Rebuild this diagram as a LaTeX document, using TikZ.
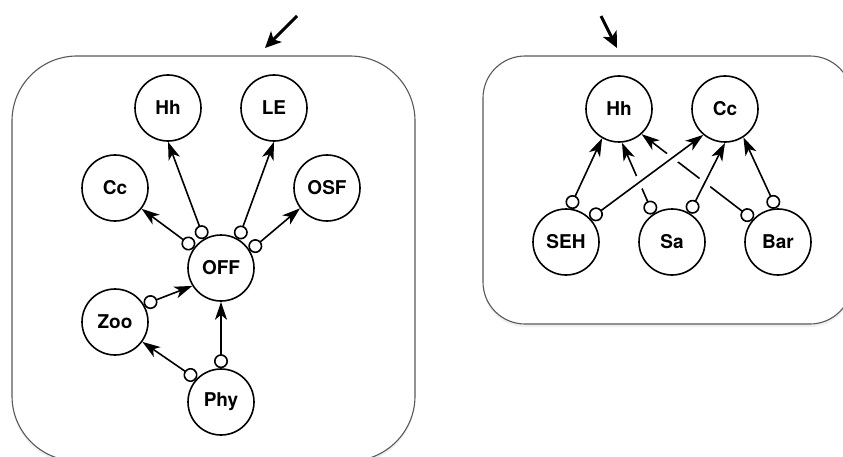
\documentclass[tikz,border=0pt]{standalone}
\usepackage{fontspec}
\setmainfont{TeX Gyre Heros}
\usetikzlibrary{arrows.meta,shadows}
\begin{document}
\begin{tikzpicture}[x=1pt,y=1pt,
  box/.style={draw=black!65, line width=1.1pt, fill=white,
    drop shadow={shadow xshift=0pt, shadow yshift=-3pt, opacity=0.12}},
  var/.style={circle, draw=black, line width=1.6pt, fill=white, minimum size=66pt,
    inner sep=0pt, font=\fontsize{19}{22}\selectfont\bfseries},
  edge/.style={line width=1.6pt, {Circle[open, fill=white, length=14pt, width=14pt]}-{Stealth[length=18pt, width=12pt, inset=5pt]}},
  gap/.style={draw=white, line width=13pt, shorten <=16pt, shorten >=20pt},
  pointer/.style={line width=3pt, -{Stealth[length=16pt, width=15pt, inset=4pt]}}
]
\useasboundingbox (0,0) rectangle (843,456);
\clip (0,0) rectangle (843,456);

% panels
\draw[box, rounded corners=65pt] (12,-5) rectangle (415,400);
\draw[box, rounded corners=42pt] (483,132) rectangle (852,400);

% pointers
\coordinate (lp0) at (297,440);
\coordinate (lp1) at (265,408);
\coordinate (rp0) at (601,440);
\coordinate (rp1) at (617,408);
\draw[pointer] (lp0) -- (lp1);
\draw[pointer] (rp0) -- (rp1);

% left graph
\node[var] (Hh)  at (168,348) {Hh};
\node[var] (LE)  at (274,348) {LE};
\node[var] (Cc)  at (115,268) {Cc};
\node[var] (OSF) at (327,268) {OSF};
\node[var] (OFF) at (221,188) {OFF};
\node[var] (Zoo) at (115,134) {Zoo};
\node[var] (Phy) at (221,54)  {Phy};

\draw[edge] (OFF.143) -- (Cc.322);
\draw[edge] (OFF.120) -- (Hh.270);
\draw[edge] (OFF.59)  -- (LE.270);
\draw[edge] (OFF.31)  -- (OSF.217);
\draw[edge] (Zoo.31)  -- (OFF.212);
\draw[edge] (Phy.90)  -- (OFF.270);
\draw[edge] (Phy.137) -- (Zoo.324);

% right graph
\node[var] (rHh) at (619,347) {Hh};
\node[var] (rCc) at (725,347) {Cc};
\node[var] (SEH) at (566,214) {SEH};
\node[var] (Sa)  at (672,214) {Sa};
\node[var] (Bar) at (778,214) {Bar};

\draw[edge] (SEH.84)  -- (rHh.240);
\draw[edge] (Sa.124)  -- (rHh.275);
\draw[edge] (Bar.138) -- (rHh.312);
\draw[edge] (Bar.93)  -- (rCc.303);
\draw[gap] (SEH.44) -- (rCc.230);
\draw[gap] (Sa.59)  -- (rCc.270);
\draw[edge] (SEH.44)  -- (rCc.230);
\draw[edge] (Sa.59)   -- (rCc.270);
\end{tikzpicture}
\end{document}
